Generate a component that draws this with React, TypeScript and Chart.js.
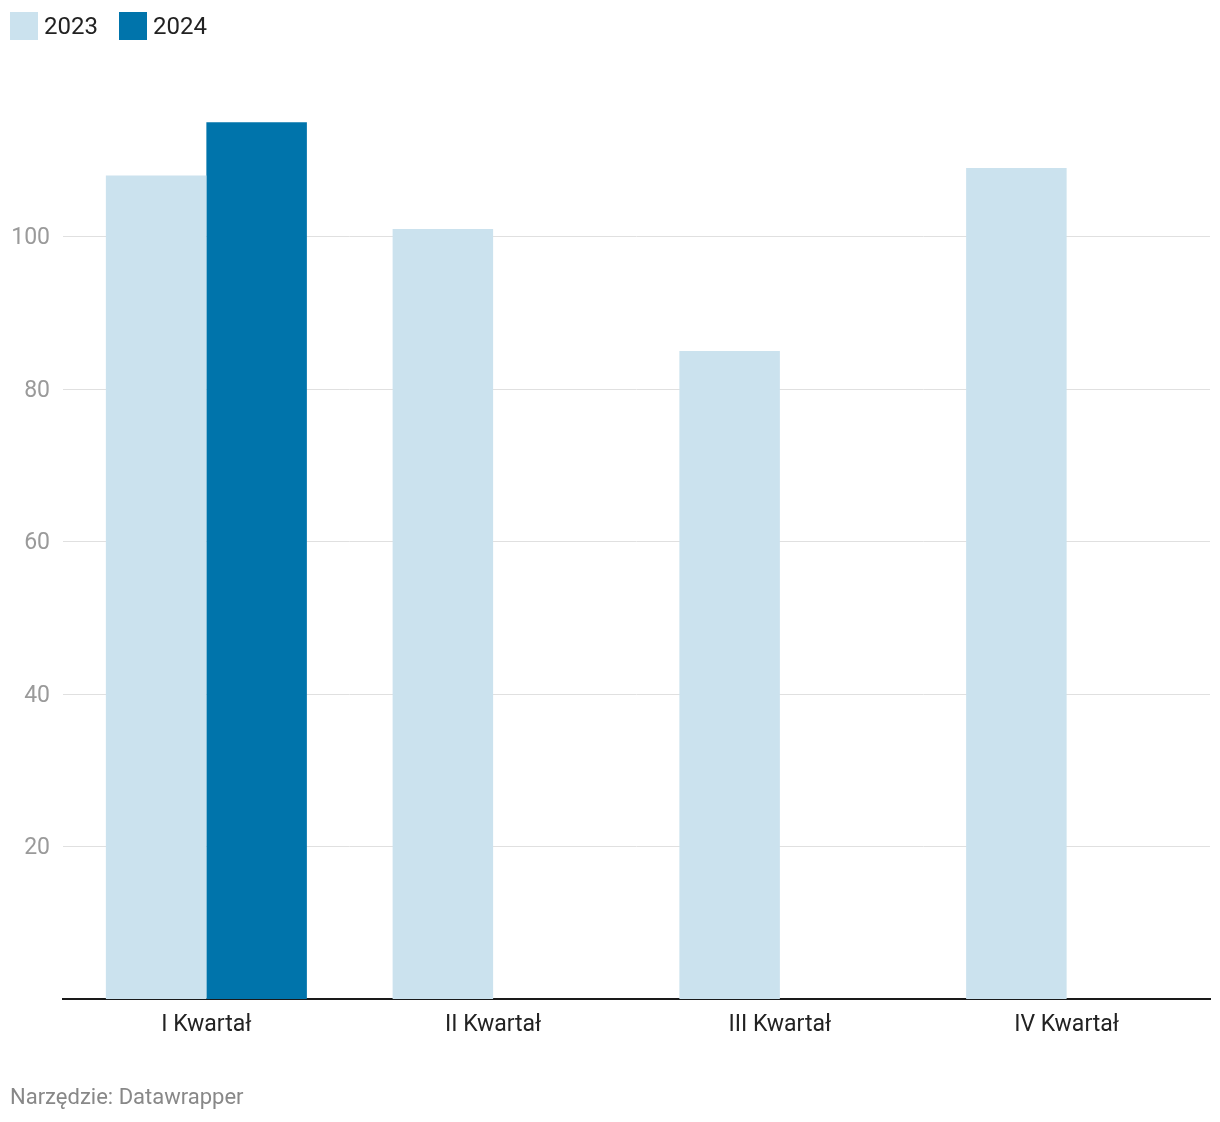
import React, { useEffect, useRef } from "react";
import { Chart, registerables } from "chart.js";

Chart.register(...registerables);

const categories = ["I Kwartał", "II Kwartał", "III Kwartał", "IV Kwartał"];
const values2023 = [108, 101, 85, 109];
const values2024: (number | null)[] = [115, null, null, null];
const yTicks = [20, 40, 60, 80, 100];
const seriesLabels = ["2023", "2024"];
const colors = ["#cbe2ee", "#0074ab"];

export default function App() {
  const ref = useRef<HTMLCanvasElement | null>(null);

  useEffect(() => {
    if (!ref.current) return;
    const chart = new Chart(ref.current, {
      type: "bar",
      data: {
        labels: categories,
        datasets: [
          { label: seriesLabels[0], data: values2023, backgroundColor: colors[0] },
          { label: seriesLabels[1], data: values2024 as any, backgroundColor: colors[1] },
        ],
      },
      options: {
        animation: false,
        responsive: false,
        maintainAspectRatio: false,
        layout: { padding: { top: 84, right: 10, left: 0, bottom: 0 } },
        plugins: { legend: { display: false }, tooltip: { enabled: false } },
        datasets: { bar: { categoryPercentage: 0.701, barPercentage: 1.0 } },
        scales: {
          x: {
            grid: { display: false, drawTicks: false },
            border: { display: true, color: "#1a1a1a", width: 2 },
            ticks: {
              color: "#222222",
              font: { family: "Roboto", size: 23 },
              padding: 12,
            },
            afterFit: (s: any) => {
              s.height = 123;
            },
          },
          y: {
            min: 0,
            max: 120,
            grid: { color: "#e0e0e0", lineWidth: 1, drawTicks: false },
            border: { display: false },
            ticks: {
              color: "#9a9a9a",
              font: { family: "Roboto", size: 23 },
              padding: 13,
              labelOffset: 2,
            },
            afterBuildTicks: (s: any) => {
              s.ticks = yTicks.map((v) => ({ value: v }));
            },
            afterFit: (s: any) => {
              s.width = 63;
            },
          },
        },
      },
    });
    return () => chart.destroy();
  }, []);

  return (
    <div style={{ position: "absolute", left: 0, top: 0, width: 1220, height: 1122, background: "#fff", fontFamily: "Roboto" }}>
      <canvas ref={ref} width={1220} height={1122} style={{ position: "absolute", left: 0, top: 0 }} />
      <div style={{ position: "absolute", left: 10, top: 12, display: "flex", alignItems: "center", height: 28 }}>
        {seriesLabels.map((l, i) => (
          <div key={l} style={{ display: "flex", alignItems: "center", marginRight: 21 }}>
            <div style={{ width: 28, height: 28, background: colors[i], marginRight: 6 }} />
            <span style={{ fontSize: 24, color: "#222" }}>{l}</span>
          </div>
        ))}
      </div>
      <div style={{ position: "absolute", left: 10, top: 1083, fontSize: 22, color: "#888", lineHeight: "28px" }}>
        Narzędzie: Datawrapper
      </div>
    </div>
  );
}
